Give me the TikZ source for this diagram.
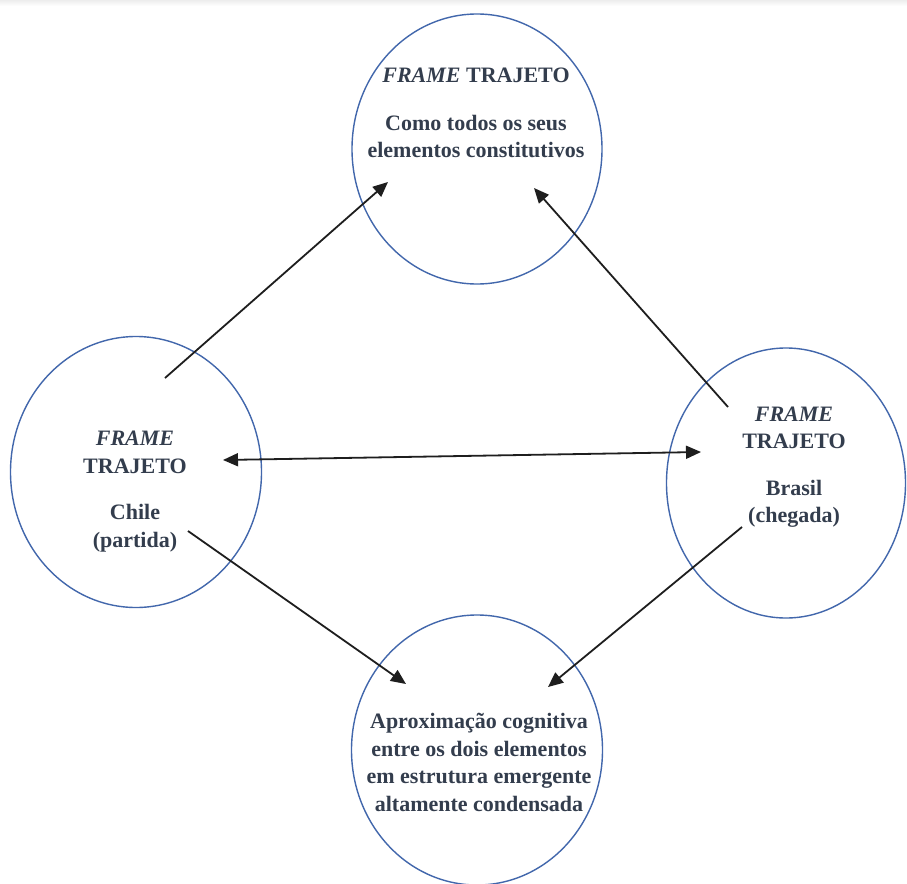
\documentclass[tikz,border=0pt]{standalone}
\usepackage{fontspec}
\setmainfont{Liberation Serif}
\usetikzlibrary{shapes.geometric,arrows.meta}

\definecolor{ringblue}{HTML}{4267AC}
\definecolor{inkslate}{HTML}{333D4D}
\definecolor{arrowink}{HTML}{1E1E1E}

\tikzset{
  frame/.style={ellipse, draw=ringblue, line width=1.4pt, inner sep=0pt},
  label/.style={anchor=base, inner sep=0pt, text=inkslate,
    font=\fontsize{22}{27}\selectfont\bfseries},
  link/.style={draw=arrowink, line width=1.8pt,
    -{Triangle[length=15pt,width=13pt]}},
  twoway/.style={draw=arrowink, line width=1.8pt,
    {Triangle[length=15pt,width=13pt]}-{Triangle[length=15pt,width=13pt]}}
}

\begin{document}
\begin{tikzpicture}[x=1pt,y=-1pt]
  \useasboundingbox (0,0) rectangle (907,883);
  \fill[white] (0,0) rectangle (907,883);
  \shade[top color=black!7, bottom color=white] (0,0) rectangle (907,6);

  % the four frames
  \node[frame, minimum width=250pt, minimum height=270pt] (top)    at (477,149) {};
  \node[frame, minimum width=251pt, minimum height=271pt] (chile)  at (136,472) {};
  \node[frame, minimum width=239pt, minimum height=270pt] (brasil) at (786,483) {};
  \node[frame, minimum width=251pt, minimum height=270pt] (bottom) at (477,750) {};

  % texts
  \node[label] (t1) at (476,82)  {\textit{FRAME} TRAJETO};
  \node[label] (t2) at (476,130) {Como todos os seus};
  \node[label] (t3) at (476,157) {elementos constitutivos};

  \node[label] (c1) at (135,445) {\textit{FRAME}};
  \node[label] (c2) at (135,473) {TRAJETO};
  \node[label] (c3) at (135,519) {Chile};
  \node[label] (c4) at (135,547) {(partida)};

  \node[label] (b1) at (794,421) {\textit{FRAME}};
  \node[label] (b2) at (794,448) {TRAJETO};
  \node[label] (b3) at (794,495) {Brasil};
  \node[label] (b4) at (794,522) {(chegada)};

  \node[label] (m1) at (479,728) {Aproximação cognitiva};
  \node[label] (m2) at (479,756) {entre os dois elementos};
  \node[label] (m3) at (479,783) {em estrutura emergente};
  \node[label] (m4) at (479,811) {altamente condensada};

  % arrow ends
  \coordinate (chileUp)   at (165,378);
  \coordinate (topIn1)    at (388,182);
  \coordinate (brasilUp)  at (728,407);
  \coordinate (topIn2)    at (534,188);
  \coordinate (chileMid)  at (223,460);
  \coordinate (brasilMid) at (701,452);
  \coordinate (chileDown) at (188,531);
  \coordinate (botIn1)    at (406,684);
  \coordinate (brasilDown) at (742,527);
  \coordinate (botIn2)    at (548,687);

  % connectors
  \draw[link]   (chileUp) -- (topIn1);
  \draw[link]   (brasilUp) -- (topIn2);
  \draw[twoway] (chileMid) -- (brasilMid);
  \draw[link]   (chileDown) -- (botIn1);
  \draw[link]   (brasilDown) -- (botIn2);
\end{tikzpicture}
\end{document}
